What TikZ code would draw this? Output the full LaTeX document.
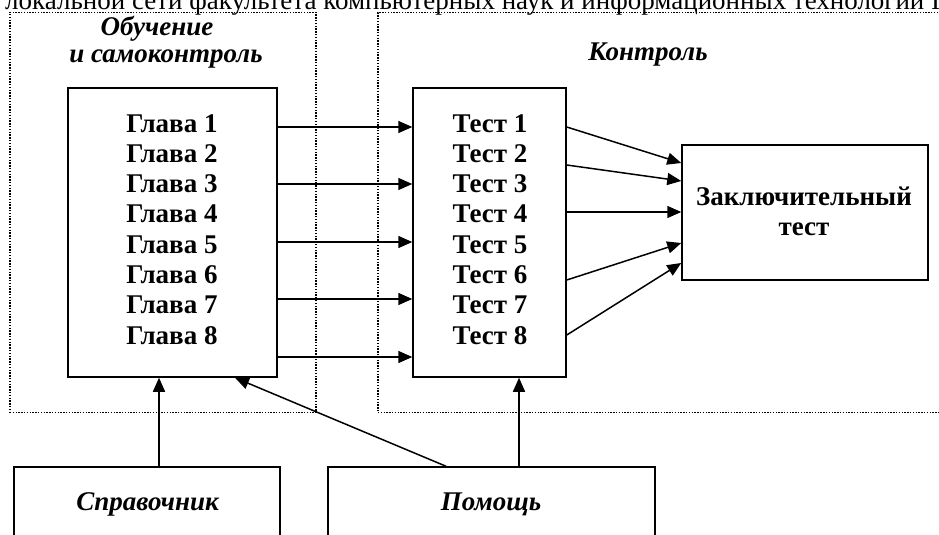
\documentclass[tikz,border=0pt]{standalone}
\usepackage{fontspec}
\setmainfont{Liberation Serif}
\usetikzlibrary{arrows.meta,positioning}

\begin{document}
\begin{tikzpicture}[x=1pt, y=-1pt, lbl/.style={anchor=base, font=\fontsize{27}{27}\selectfont\bfseries}, ttl/.style={anchor=base, font=\fontsize{27}{27}\selectfont\bfseries\itshape}]
\tikzstyle{blk}=[draw, line width=1.5pt, inner sep=0pt]%
\tikzstyle{zone}=[draw, line width=1.4pt, dash pattern=on 1.4pt off 1.4pt, inner sep=0pt]
\tikzstyle{arr}=[line width=1.5pt, -{Triangle[length=14pt,width=12pt]}]
\useasboundingbox (0,0) rectangle (939,535);
\clip (0,0) rectangle (939,535);
% header line, cut off at the top
\node[anchor=base west, inner sep=0pt, font=\fontsize{27}{27}\selectfont] (hdr) at (5,10) {локальной сети факультета компьютерных наук и информационных технологий I};
% dotted zones
\node[zone, minimum width=306pt, minimum height=400pt] (learn) at (163,212.5) {};
\node[zone, minimum width=584pt, minimum height=400pt] (ctrl) at (670,212.5) {};
\node[ttl] (tlearn1) at (157,36) {Обучение};
\node[ttl] (tlearn2) at (166,63) {и самоконтроль};
\node[ttl] (tctrl) at (648,60) {Контроль};
% boxes
\node[blk, minimum width=209pt, minimum height=289pt] (glava) at (172.5,232.5) {};
\node[blk, minimum width=153pt, minimum height=289pt] (test) at (489.5,232.5) {};
\node[blk, minimum width=246pt, minimum height=135pt] (final) at (805,212.5) {};
\node[blk, minimum width=266pt, minimum height=96pt] (sprav) at (147,515) {};
\node[blk, minimum width=327pt, minimum height=96pt] (pom) at (491.5,515) {};
\foreach \i in {1,...,8}{
\node[lbl] (g\i) at (172,{132+30.3*(\i-1)}) {Глава \i};
\node[lbl] (t\i) at (490,{132+30.3*(\i-1)}) {Тест \i};
}
\node[lbl] (fin1) at (804,205) {Заключительный};
\node[lbl] (fin2) at (804,235) {тест};
\node[ttl] (tsprav) at (147.5,510) {Справочник};
\node[ttl] (tpom) at (491,510) {Помощь};
% arrows
\foreach \y in {127,184,242,299,357}{\draw[arr] (glava.east |- 0,\y) -- (test.west |- 0,\y);}
\foreach \a/\b in {127/163,165/181,212/212,280/243,335/263}{\draw[arr] (test.east |- 0,\a) -- (final.west |- 0,\b);}
\draw[arr] (sprav.north -| 159,0) -- (glava.south -| 159,0);
\draw[arr] (pom.north -| 519,0) -- (test.south -| 519,0);
\draw[arr] (pom.north -| 446,0) -- (glava.south -| 235,0);

\end{tikzpicture}
\end{document}
